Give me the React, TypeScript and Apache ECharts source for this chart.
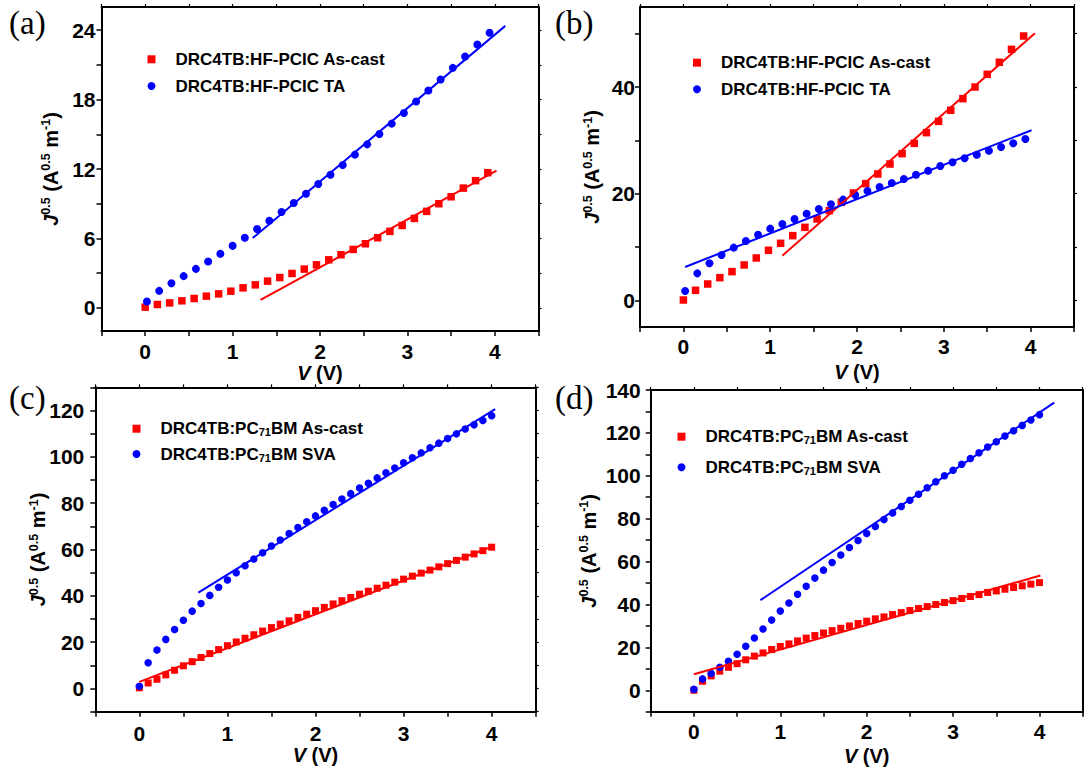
import React, { useEffect, useRef } from 'react';
import * as echarts from 'echarts';

// ---------- data ----------
const A_X_CAST = [0, 0.14, 0.28, 0.42, 0.56, 0.7, 0.84, 0.98, 1.12, 1.26, 1.4, 1.54, 1.68, 1.82, 1.96, 2.1, 2.24, 2.38, 2.52, 2.66, 2.8, 2.94, 3.08, 3.22, 3.36, 3.5, 3.64, 3.78, 3.92];
const A_X_TA = [0.02, 0.16, 0.3, 0.44, 0.58, 0.72, 0.86, 1.0, 1.14, 1.28, 1.42, 1.56, 1.7, 1.84, 1.98, 2.12, 2.26, 2.4, 2.54, 2.68, 2.82, 2.96, 3.1, 3.24, 3.38, 3.52, 3.66, 3.8, 3.94];
const A_Y_CAST = [0.06, 0.29, 0.43, 0.61, 0.81, 1.01, 1.21, 1.44, 1.73, 1.99, 2.31, 2.62, 2.97, 3.35, 3.72, 4.15, 4.59, 5.05, 5.54, 6.06, 6.61, 7.12, 7.73, 8.34, 9.0, 9.6, 10.35, 10.99, 11.68];
const A_Y_TA = [0.55, 1.47, 2.13, 2.74, 3.37, 4.01, 4.67, 5.36, 6.06, 6.81, 7.53, 8.28, 9.06, 9.86, 10.7, 11.51, 12.34, 13.24, 14.13, 15.03, 15.92, 16.84, 17.83, 18.78, 19.73, 20.74, 21.72, 22.76, 23.77];
const B_Y_CAST = [0.06, 1.88, 3.06, 4.25, 5.38, 6.63, 7.94, 9.38, 10.69, 12.13, 13.69, 15.25, 16.81, 18.38, 20.13, 21.88, 23.69, 25.56, 27.5, 29.44, 31.44, 33.56, 35.63, 37.81, 40.0, 42.38, 44.63, 47.06, 49.56];
const B_Y_TA = [1.75, 5.06, 6.94, 8.5, 9.88, 11.13, 12.31, 13.44, 14.31, 15.25, 16.25, 17.13, 18.0, 18.88, 19.75, 20.5, 21.25, 22.0, 22.75, 23.56, 24.31, 25.19, 25.88, 26.63, 27.31, 28.06, 28.75, 29.44, 30.25];
const CD_X = [0, 0.1, 0.2, 0.3, 0.4, 0.5, 0.6, 0.7, 0.8, 0.9, 1.0, 1.1, 1.2, 1.3, 1.4, 1.5, 1.6, 1.7, 1.8, 1.9, 2.0, 2.1, 2.2, 2.3, 2.4, 2.5, 2.6, 2.7, 2.8, 2.9, 3.0, 3.1, 3.2, 3.3, 3.4, 3.5, 3.6, 3.7, 3.8, 3.9, 4.0];
const C_Y_CAST = [0.3, 2.4, 4.0, 5.9, 7.9, 9.8, 11.6, 13.4, 15.1, 16.8, 18.5, 20.1, 21.7, 23.2, 24.8, 26.3, 27.8, 29.2, 30.7, 32.1, 33.6, 35.0, 36.5, 37.9, 39.3, 40.7, 42.0, 43.3, 44.6, 45.9, 47.2, 48.5, 49.8, 51.1, 52.5, 53.9, 55.3, 56.7, 58.1, 59.5, 61.0];
const C_Y_SVA = [1.0, 11.1, 16.6, 21.2, 25.5, 29.5, 33.4, 36.7, 40.2, 43.7, 46.8, 50.0, 53.0, 55.9, 58.6, 61.5, 64.1, 66.9, 69.5, 72.0, 74.5, 76.9, 79.4, 81.8, 84.1, 86.5, 88.6, 90.9, 93.1, 95.2, 97.4, 99.6, 101.7, 103.9, 105.9, 107.9, 109.9, 112.0, 113.8, 115.7, 117.7];
const D_Y_CAST = [0.0, 4.2, 6.7, 8.9, 10.7, 12.4, 14.2, 15.9, 17.4, 19.0, 20.4, 21.6, 23.0, 24.3, 25.5, 26.7, 27.8, 28.9, 30.0, 31.1, 32.2, 33.3, 34.2, 35.3, 36.2, 37.2, 38.1, 39.0, 40.0, 40.9, 41.8, 42.8, 43.7, 44.6, 45.6, 46.3, 47.1, 47.9, 48.7, 49.5, 50.2];
const D_Y_SVA = [0.4, 5.3, 7.8, 10.7, 13.5, 16.8, 20.5, 24.4, 28.6, 32.7, 36.9, 40.7, 44.8, 48.5, 52.3, 56.0, 59.6, 63.1, 66.6, 69.8, 73.1, 76.4, 79.6, 82.7, 85.7, 88.6, 91.4, 94.4, 97.2, 100.0, 102.6, 105.4, 108.1, 110.7, 113.4, 115.9, 118.5, 121.0, 123.5, 126.0, 128.5];

// linear fit segments [[x0,y0],[x1,y1]]
const A_FIT_CAST = [[1.32, 0.69], [4.02, 11.85]];
const A_FIT_TA = [[1.23, 6.03], [4.12, 24.37]];
const B_FIT_CAST = [[1.14, 8.38], [4.05, 50.1]];
const B_FIT_TA = [[0.02, 6.25], [4.01, 31.9]];
const C_FIT_CAST = [[0, 2.9], [4.0, 61.2]];
const C_FIT_SVA = [[0.67, 41.4], [4.04, 120.6]];
const D_FIT_CAST = [[0, 7.5], [4.01, 53.5]];
const D_FIT_SVA = [[0.77, 42.0], [4.17, 134.1]];

// legend names
const HF_CAST = 'DRC4TB:HF-PCIC As-cast';
const HF_TA = 'DRC4TB:HF-PCIC TA';
const PC_CAST = 'DRC4TB:PC71BM As-cast';
const PC_SVA = 'DRC4TB:PC71BM SVA';

// ticks
const X_TICKS = [-0.5, 0, 0.5, 1, 1.5, 2, 2.5, 3, 3.5, 4, 4.5];
const X_LABELS = [0, 1, 2, 3, 4];
const A_Y_TICKS = [0, 3, 6, 9, 12, 15, 18, 21, 24];
const A_Y_LABELS = [0, 6, 12, 18, 24];
const B_Y_TICKS = [0, 10, 20, 30, 40, 50];
const B_Y_LABELS = [0, 20, 40];
const C_Y_TICKS = [-10, 0, 10, 20, 30, 40, 50, 60, 70, 80, 90, 100, 110, 120, 130];
const C_Y_LABELS = [0, 20, 40, 60, 80, 100, 120];
const D_Y_TICKS = [-10, 0, 10, 20, 30, 40, 50, 60, 70, 80, 90, 100, 110, 120, 130, 140];
const D_Y_LABELS = [0, 20, 40, 60, 80, 100, 120, 140];

const FONT = 'Arial, "Liberation Sans", Helvetica, sans-serif';
const SERIF = '"Liberation Serif", "Times New Roman", Times, serif';
const RED = '#ff0000';
const BLUE = '#0000ff';
const SQUARE_ICON = 'path://M0,0L10,0L10,10L0,10Z';

const zip = (xs: number[], ys: number[]) => xs.map((x, i) => [x, ys[i]]);

type Panel = {
  grid: { left: number; top: number; width: number; height: number };
  yMin: number; yMax: number; yTicks: number[]; yLabels: number[];
  yLabelMargin: number; xLabelMargin: number; xNameGap: number; yNameGap: number;
  legend: { left: number; top: number; gap: number; names: string[] };
  series: { cast: number[][]; other: number[][]; fitCast: number[][]; fitOther: number[][]; names: string[]; size: number };
  label: { text: string; x: number; y: number };
};

const panels: Panel[] = [
  {
    grid: { left: 101.5, top: 7, width: 437, height: 324 },
    yMin: -2, yMax: 26, yTicks: A_Y_TICKS, yLabels: A_Y_LABELS,
    yLabelMargin: 6, xLabelMargin: 10, xNameGap: 32, yNameGap: 40,
    legend: { left: 147.5, top: 50.3, gap: 8.7, names: [HF_CAST, HF_TA] },
    series: { cast: zip(A_X_CAST, A_Y_CAST), other: zip(A_X_TA, A_Y_TA), fitCast: A_FIT_CAST, fitOther: A_FIT_TA, names: [HF_CAST, HF_TA], size: 8 },
    label: { text: '(a)', x: 9, y: 23 },
  },
  {
    grid: { left: 640, top: 7, width: 434, height: 320 },
    yMin: -5, yMax: 55, yTicks: B_Y_TICKS, yLabels: B_Y_LABELS,
    yLabelMargin: 5, xLabelMargin: 9, xNameGap: 35, yNameGap: 37,
    legend: { left: 693, top: 53.7, gap: 8.6, names: [HF_CAST, HF_TA] },
    series: { cast: zip(A_X_CAST, B_Y_CAST), other: zip(A_X_TA, B_Y_TA), fitCast: B_FIT_CAST, fitOther: B_FIT_TA, names: [HF_CAST, HF_TA], size: 8 },
    label: { text: '(b)', x: 555, y: 23 },
  },
  {
    grid: { left: 95.3, top: 387.3, width: 440.4, height: 324.4 },
    yMin: -10, yMax: 130, yTicks: C_Y_TICKS, yLabels: C_Y_LABELS,
    yLabelMargin: 11, xLabelMargin: 11, xNameGap: 33, yNameGap: 46,
    legend: { left: 132.5, top: 419.7, gap: 7.3, names: [PC_CAST, PC_SVA] },
    series: { cast: zip(CD_X, C_Y_CAST), other: zip(CD_X, C_Y_SVA), fitCast: C_FIT_CAST, fitOther: C_FIT_SVA, names: [PC_CAST, PC_SVA], size: 7.5 },
    label: { text: '(c)', x: 9, y: 398 },
  },
  {
    grid: { left: 650.7, top: 390, width: 432, height: 321.7 },
    yMin: -10, yMax: 140, yTicks: D_Y_TICKS, yLabels: D_Y_LABELS,
    yLabelMargin: 10, xLabelMargin: 9, xNameGap: 34, yNameGap: 51,
    legend: { left: 677.5, top: 427.7, gap: 12.6, names: [PC_CAST, PC_SVA] },
    series: { cast: zip(CD_X, D_Y_CAST), other: zip(CD_X, D_Y_SVA), fitCast: D_FIT_CAST, fitOther: D_FIT_SVA, names: [PC_CAST, PC_SVA], size: 7.5 },
    label: { text: '(d)', x: 555, y: 398 },
  },
];

const tickLabel = (margin: number) => ({
  color: '#000', fontSize: 21, fontWeight: 'bold', fontFamily: FONT, margin,
});
const lineStyle = { color: '#000', width: 2 };

function buildOption() {
  const grid: any[] = [];
  const xAxis: any[] = [];
  const yAxis: any[] = [];
  const series: any[] = [];
  const legend: any[] = [];
  const elements: any[] = [];

  panels.forEach((p, gi) => {
    grid.push({ ...p.grid, show: false, containLabel: false, outerBoundsMode: 'none' });

    xAxis.push({
      type: 'value', gridIndex: gi, position: 'bottom', min: -0.5, max: 4.5,
      axisLine: { show: true, onZero: false, lineStyle },
      axisTick: { show: true, inside: false, length: 5, customValues: X_TICKS, lineStyle: { color: '#000', width: 1.5 } },
      axisLabel: { show: true, customValues: X_LABELS, ...tickLabel(p.xLabelMargin) },
      splitLine: { show: false },
      name: '{i|V} (V)', nameLocation: 'middle', nameGap: p.xNameGap, nameMoveOverlap: false,
      nameTextStyle: {
        color: '#000', fontSize: 20, fontWeight: 'bold', fontFamily: FONT,
        rich: { i: { fontStyle: 'italic', fontWeight: 'bold', fontSize: 20, fontFamily: FONT, color: '#000' } },
      },
    });
    xAxis.push({
      type: 'value', gridIndex: gi, position: 'top', min: -0.5, max: 4.5,
      axisLine: { show: true, onZero: false, lineStyle },
      axisTick: { show: true, inside: false, length: 3, customValues: X_TICKS, lineStyle: { color: '#000', width: 1.2 } },
      axisLabel: { show: false },
      splitLine: { show: false },
    });

    yAxis.push({
      type: 'value', gridIndex: gi, position: 'left', min: p.yMin, max: p.yMax,
      axisLine: { show: true, onZero: false, lineStyle },
      axisTick: { show: true, inside: false, length: 5, customValues: p.yTicks, lineStyle: { color: '#000', width: 1.5 } },
      axisLabel: { show: true, customValues: p.yLabels, ...tickLabel(p.yLabelMargin) },
      splitLine: { show: false },
      name: '{it|J}{sup|0.5} (A{sup|0.5} m{sup|-1})', nameLocation: 'middle', nameGap: p.yNameGap, nameMoveOverlap: false,
      nameTextStyle: {
        color: '#000', fontSize: 20, fontWeight: 'bold', fontFamily: FONT, lineHeight: 22,
        rich: {
          it: { fontStyle: 'italic', fontWeight: 'bold', fontSize: 20, fontFamily: FONT, color: '#000', lineHeight: 22 },
          sup: { fontWeight: 'bold', fontSize: 12.5, fontFamily: FONT, color: '#000', lineHeight: 13, verticalAlign: 'top' },
        },
      },
    });
    yAxis.push({
      type: 'value', gridIndex: gi, position: 'right', min: p.yMin, max: p.yMax,
      axisLine: { show: true, onZero: false, lineStyle },
      axisTick: { show: true, inside: false, length: 3, customValues: p.yTicks, lineStyle: { color: '#000', width: 1.2 } },
      axisLabel: { show: false },
      splitLine: { show: false },
    });

    const xi = gi * 2;
    const yi = gi * 2;
    const s = p.series;
    series.push({
      type: 'scatter', name: s.names[0], xAxisIndex: xi, yAxisIndex: yi, data: s.cast,
      symbol: 'rect', symbolSize: s.size - 0.5, itemStyle: { color: RED, opacity: 1 }, z: 2,
    });
    series.push({
      type: 'scatter', name: s.names[1], xAxisIndex: xi, yAxisIndex: yi, data: s.other,
      symbol: 'circle', symbolSize: s.size, itemStyle: { color: BLUE, opacity: 1 }, z: 2,
    });
    series.push({
      type: 'line', name: 'fit-' + gi + '-cast', xAxisIndex: xi, yAxisIndex: yi, data: s.fitCast,
      symbol: 'none', showSymbol: false, lineStyle: { color: RED, width: 2 }, itemStyle: { color: RED }, z: 3,
    });
    series.push({
      type: 'line', name: 'fit-' + gi + '-other', xAxisIndex: xi, yAxisIndex: yi, data: s.fitOther,
      symbol: 'none', showSymbol: false, lineStyle: { color: BLUE, width: 2 }, itemStyle: { color: BLUE }, z: 3,
    });

    legend.push({
      left: p.legend.left, top: p.legend.top, orient: 'vertical', itemWidth: 38, itemHeight: 8,
      itemGap: p.legend.gap, selectedMode: false, symbolKeepAspect: true, padding: 0,
      data: [
        { name: p.legend.names[0], icon: SQUARE_ICON, itemStyle: { color: RED } },
        { name: p.legend.names[1], icon: 'circle', itemStyle: { color: BLUE } },
      ],
      formatter: (n: string) => n.replace('PC71BM', 'PC{sub|71}BM'),
      textStyle: {
        color: '#000', fontSize: 17, fontWeight: 'bold', fontFamily: FONT, lineHeight: 18,
        rich: {
          sub: { color: '#000', fontSize: 11, fontWeight: 'bold', fontFamily: FONT, lineHeight: 4, verticalAlign: 'bottom' },
        },
      },
    });

    elements.push({
      type: 'text', x: p.label.x, y: p.label.y,
      style: { text: p.label.text, fontSize: 33, fontFamily: SERIF, fill: '#000', align: 'left', verticalAlign: 'middle' },
    });
  });

  return {
    animation: false,
    backgroundColor: '#ffffff',
    grid, xAxis, yAxis, series, legend,
    graphic: { elements },
  };
}

export default function App() {
  const ref = useRef<HTMLDivElement>(null);
  useEffect(() => {
    if (!ref.current) return;
    const chart = echarts.init(ref.current, undefined, { renderer: 'svg' });
    chart.setOption(buildOption() as any);
    return () => chart.dispose();
  }, []);
  return (
    <div
      ref={ref}
      style={{ position: 'absolute', left: 0, top: 0, width: 1084, height: 771, background: '#fff' }}
    />
  );
}
